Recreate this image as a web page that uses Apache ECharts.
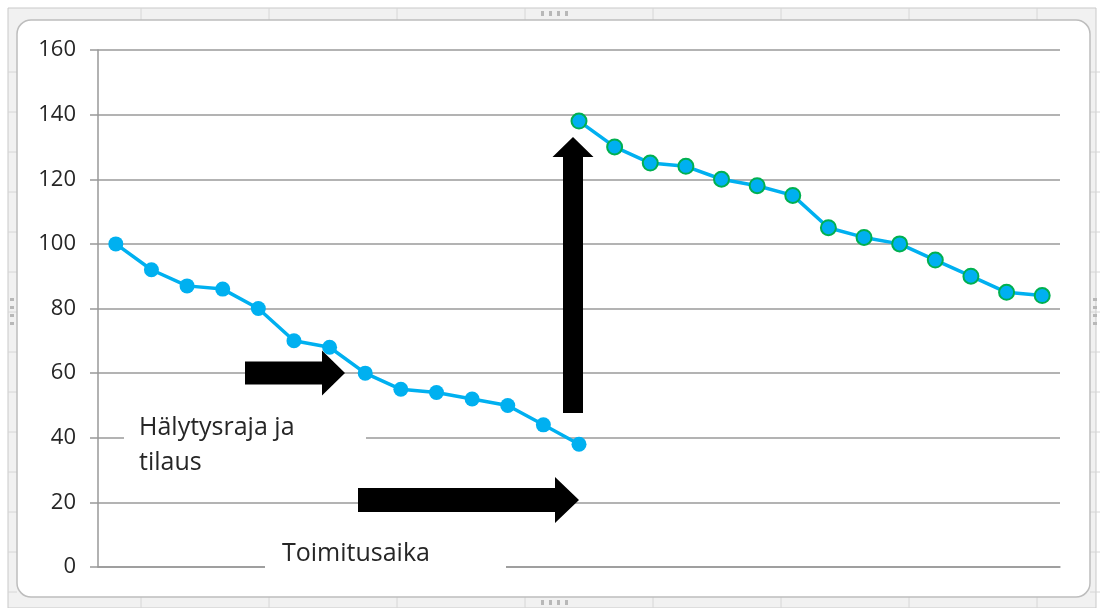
<!DOCTYPE html>
<html>
<head>
<meta charset="utf-8">
<script src="https://cdn.jsdelivr.net/npm/echarts@6/dist/echarts.min.js"></script>
<style>
  html, body { margin: 0; padding: 0; background: #fff; }
  #chart { width: 1100px; height: 608px; }
</style>
</head>
<body>
<div id="chart"></div>
<script>
// Periods on the horizontal axis (no labels are drawn for them)
const periods = ['1','2','3','4','5','6','7','8','9','10','11','12','13','14',
                 '15','16','17','18','19','20','21','22','23','24','25','26','27'];

// Stock level before the delivery arrives (periods 1–14)
const stockBefore = [100, 92, 87, 86, 80, 70, 68, 60, 55, 54, 52, 50, 44, 38];

// Stock level after the delivery (periods 14–27)
const stockAfter = [138, 130, 125, 124, 120, 118, 115, 105, 102, 100, 95, 90, 85, 84];

// Value-axis ticks
const yTicks = [0, 20, 40, 60, 80, 100, 120, 140, 160];

// Annotation texts
const reorderLabel = ['Hälytysraja ja', 'tilaus'];
const leadTimeLabel = 'Toimitusaika';

const FONT = "'Open Sans', 'Liberation Sans', sans-serif";
const TEXT = '#262626';
const BLUE = '#00b0f0';
const GREEN = '#00b050';

// Align the two segments on the shared category axis
const startAfter = stockBefore.length - 1;
const seriesBefore = periods.map((_, i) => i < stockBefore.length ? stockBefore[i] : '-');
const seriesAfter = periods.map((_, i) => i >= startAfter ? stockAfter[i - startAfter] : '-');

// Spreadsheet frame around the chart object
function frameGraphics() {
  const g = [];
  g.push({ type: 'rect', z: -100, shape: { x: 8, y: 8, width: 1088, height: 600 },
           style: { fill: '#f1f1f1', stroke: '#c9c9c9', lineWidth: 1 } });
  // column separators in the top/bottom strips
  for (let x = 141; x < 1090; x += 128) {
    g.push({ type: 'line', z: -99, shape: { x1: x, y1: 8, x2: x, y2: 20 },
             style: { stroke: '#d6d6d6', lineWidth: 1 } });
    g.push({ type: 'line', z: -99, shape: { x1: x, y1: 597, x2: x, y2: 608 },
             style: { stroke: '#d6d6d6', lineWidth: 1 } });
  }
  // row separators in the side strips
  for (let y = 72; y < 600; y += 40) {
    g.push({ type: 'line', z: -99, shape: { x1: 8, y1: y, x2: 17, y2: y },
             style: { stroke: '#d6d6d6', lineWidth: 1 } });
    g.push({ type: 'line', z: -99, shape: { x1: 1090, y1: y, x2: 1100, y2: y },
             style: { stroke: '#d6d6d6', lineWidth: 1 } });
  }
  // resize handles
  for (let k = 0; k < 4; k++) {
    g.push({ type: 'rect', z: -98, shape: { x: 541 + k * 8, y: 11, width: 3, height: 5 },
             style: { fill: '#b8b8b8' } });
    g.push({ type: 'rect', z: -98, shape: { x: 541 + k * 8, y: 600, width: 3, height: 5 },
             style: { fill: '#b8b8b8' } });
    g.push({ type: 'rect', z: -98, shape: { x: 10, y: 298 + k * 8, width: 4, height: 3 },
             style: { fill: '#b8b8b8' } });
    g.push({ type: 'rect', z: -98, shape: { x: 1093, y: 298 + k * 8, width: 4, height: 3 },
             style: { fill: '#b8b8b8' } });
  }
  // chart area
  g.push({ type: 'rect', z: -90, shape: { x: 17, y: 20, width: 1073, height: 577, r: 14 },
           style: { fill: '#ffffff', stroke: '#bdbdbd', lineWidth: 1.5 } });
  return g;
}

// Block arrow pointing right or up
function arrowRight(x0, x1, yc, shaftH, headLen, headH) {
  return { type: 'polygon', z: 100, shape: { points: [
    [x0, yc - shaftH / 2], [x1 - headLen, yc - shaftH / 2], [x1 - headLen, yc - headH / 2],
    [x1, yc], [x1 - headLen, yc + headH / 2], [x1 - headLen, yc + shaftH / 2], [x0, yc + shaftH / 2]
  ] }, style: { fill: '#000' } };
}
function arrowUp(xc, y0, y1, shaftW, headLen, headW) {
  return { type: 'polygon', z: 100, shape: { points: [
    [xc - shaftW / 2, y0], [xc - shaftW / 2, y1 + headLen], [xc - headW / 2, y1 + headLen],
    [xc, y1], [xc + headW / 2, y1 + headLen], [xc + shaftW / 2, y1 + headLen], [xc + shaftW / 2, y0]
  ] }, style: { fill: '#000' } };
}

function annotationGraphics() {
  return [
    // text boxes (white fill hides the gridlines behind them)
    { type: 'rect', z: 5, shape: { x: 124, y: 398, width: 242, height: 84 },
      style: { fill: '#fff' } },
    { type: 'text', z: 6, x: 139, y: 445,
      style: { text: reorderLabel.join('\n'), font: '25px ' + FONT, fill: TEXT,
               lineHeight: 35, verticalAlign: 'middle', align: 'left' } },
    { type: 'rect', z: 5, shape: { x: 265, y: 532, width: 241, height: 44 },
      style: { fill: '#fff' } },
    { type: 'text', z: 6, x: 282, y: 554,
      style: { text: leadTimeLabel, font: '25px ' + FONT, fill: TEXT,
               verticalAlign: 'middle', align: 'left' } },
    arrowRight(245, 345, 373, 23, 23, 45),
    arrowRight(358, 579, 500, 24, 24, 46),
    arrowUp(573, 413, 137, 20, 20, 41)
  ];
}

const chart = echarts.init(document.getElementById('chart'));
chart.setOption({
  backgroundColor: '#fff',
  animation: false,
  grid: { left: 98, right: 40, top: 50, bottom: 41, containLabel: false },
  xAxis: {
    type: 'category',
    data: periods,
    boundaryGap: true,
    axisLine: { show: true, lineStyle: { color: '#999', width: 1.5 } },
    axisTick: { show: false },
    axisLabel: { show: false },
    splitLine: { show: false }
  },
  yAxis: {
    type: 'value',
    min: yTicks[0],
    max: yTicks[yTicks.length - 1],
    interval: yTicks[1] - yTicks[0],
    axisLine: { show: true, lineStyle: { color: '#999', width: 1.5 } },
    axisTick: { show: true, length: 8, lineStyle: { color: '#999', width: 1.5 } },
    axisLabel: { color: TEXT, fontFamily: FONT, fontSize: 22, margin: 22 },
    splitLine: { show: true, lineStyle: { color: '#9a9a9a', width: 1.5 } }
  },
  series: [
    {
      type: 'line',
      data: seriesBefore,
      connectNulls: false,
      symbol: 'circle',
      symbolSize: 15,
      lineStyle: { color: BLUE, width: 3.5 },
      itemStyle: { color: BLUE, borderColor: BLUE, borderWidth: 0 },
      z: 20
    },
    {
      type: 'line',
      data: seriesAfter,
      connectNulls: false,
      symbol: 'circle',
      symbolSize: 15,
      lineStyle: { color: BLUE, width: 3.5 },
      itemStyle: { color: BLUE, borderColor: GREEN, borderWidth: 2 },
      z: 20
    }
  ],
  graphic: frameGraphics().concat(annotationGraphics())
});
</script>
</body>
</html>
